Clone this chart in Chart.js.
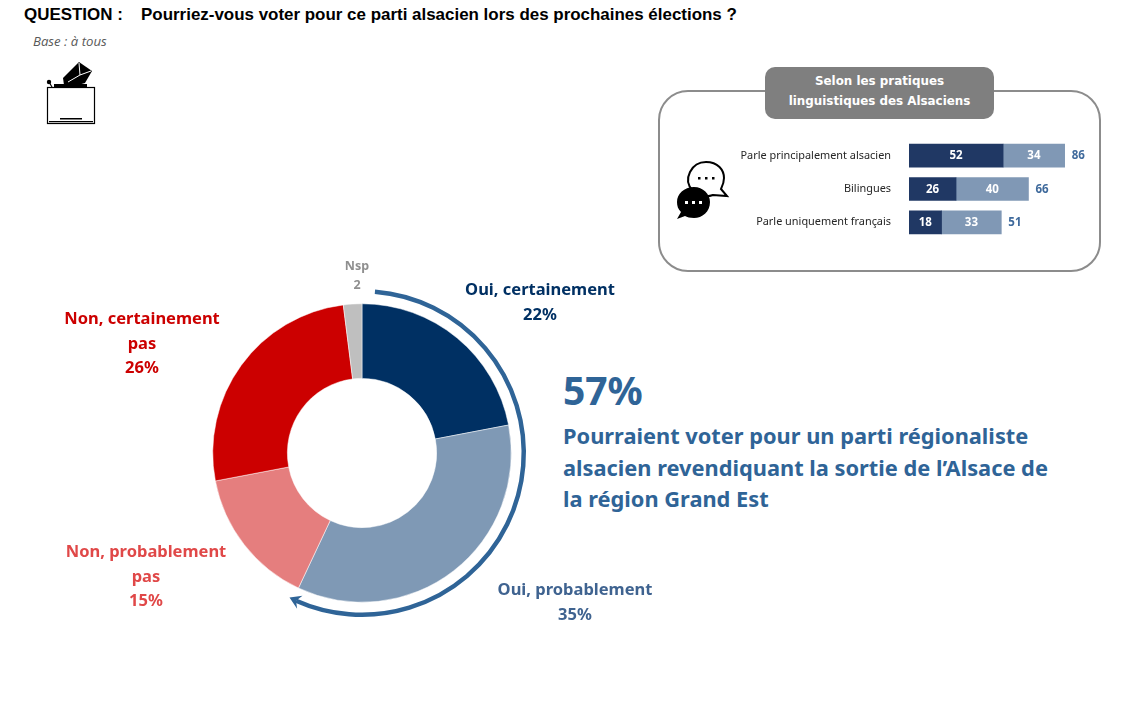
<!DOCTYPE html>
<html lang="fr">
<head>
<meta charset="utf-8">
<title>Vote parti alsacien</title>
<script src="https://cdn.jsdelivr.net/npm/chart.js@4"></script>
<style>
    html, body { margin: 0; padding: 0; background: #fff; }
    body { width: 1135px; height: 711px; position: relative; overflow: hidden; font-family: "Noto Sans", sans-serif; }
    .abs { position: absolute; white-space: nowrap; }
    .lbl { position: absolute; width: 240px; text-align: center; font-weight: 700; font-size: 16.5px; line-height: 24.5px; white-space: nowrap; }
    canvas { position: absolute; }
    svg { position: absolute; }
</style>
</head>
<body>

<div class="abs" style="left:24px;top:3px;font:700 16.95px/24px 'Liberation Sans',sans-serif;color:#000">QUESTION :</div>
<div class="abs" style="left:141px;top:3px;font:700 16.95px/24px 'Liberation Sans',sans-serif;color:#000">Pourriez-vous voter pour ce parti alsacien lors des prochaines élections ?</div>
<div class="abs" style="left:33px;top:32px;font:italic 13.2px/18px 'Open Sans',sans-serif;color:#595959">Base : à tous</div>

<!-- ballot box icon -->
<svg style="left:44px;top:58px" width="54" height="70" viewBox="0 0 54 70">
    <path d="M19 20 L35 4 L48 13 L41 25 L34 27 L20 27Z" fill="#000"/>
    <path d="M35 5 L36 17 L47 13 M24 24 L36 17" stroke="#fff" stroke-width="1" fill="none"/>
    <rect x="10" y="26" width="33" height="3.5" fill="#000"/>
    <circle cx="5" cy="24" r="2.2" fill="#000"/>
    <path d="M5 24 L8 29" stroke="#000" stroke-width="1.2"/>
    <rect x="3.5" y="29.5" width="47" height="36" fill="#fff" stroke="#000" stroke-width="1.2"/>
    <rect x="16" y="60" width="22" height="1.5" fill="#000"/>
    <rect x="5" y="63" width="44" height="1.2" fill="#000"/>
</svg>

<!-- panel -->
<div class="abs" style="left:658px;top:90px;width:443px;height:182px;border:2px solid #8c8c8c;border-radius:30px;box-sizing:border-box"></div>
<div class="abs" style="left:765px;top:67px;width:229px;height:52px;background:#7f7f7f;border-radius:10px;color:#fff;font:700 11.9px/20px 'DejaVu Sans',sans-serif;text-align:center;padding-top:4px;box-sizing:border-box">Selon les pratiques<br>linguistiques des Alsaciens</div>

<!-- chat icon -->
<svg style="left:675px;top:158px" width="56" height="64" viewBox="0 0 56 64">
    <path d="M31 4 C43 4 49 12 49 20 C49 25 47 29 46 31 L52 38 L38 37 C33 39 24 39 18 33 C12 27 12 20 15 14 C18 8 24 4 31 4Z" fill="#fff" stroke="#000" stroke-width="2"/>
    <rect x="23" y="19" width="2.5" height="2.5"/><rect x="30" y="19" width="2.5" height="2.5"/><rect x="37" y="19" width="2.5" height="2.5"/>
    <path d="M19 29 C28 29 35 36 35 44 C35 54 27 60 19 60 C15 60 12 59 10 58 L2 61 L6 54 C3 51 2 48 2 44 C2 36 9 29 19 29Z" fill="#000"/>
    <rect x="10" y="43" width="3" height="3" fill="#fff"/><rect x="17" y="43" width="3" height="3" fill="#fff"/><rect x="24" y="43" width="3" height="3" fill="#fff"/>
</svg>

<canvas id="donut" style="left:192px;top:283px"></canvas>
<canvas id="bars" style="left:700px;top:139px"></canvas>

<div class="abs" style="left:563px;top:362px;font:700 39px/56px 'Noto Sans',sans-serif;color:#2f6497">57%</div>
<div class="abs" style="left:563px;top:420px;font:700 21.8px/31.5px 'Noto Sans',sans-serif;color:#2f6497">Pourraient voter pour un parti régionaliste<br>alsacien revendiquant la sortie de l’Alsace de<br>la région Grand Est</div>

<script>
// Donut values
const answerLabels = ['Oui, certainement', 'Oui, probablement', 'Non, probablement pas', 'Non, certainement pas', 'Nsp'];
const answerValues = [22, 35, 15, 26, 2];
const answerColors = ['#003063', '#7f99b5', '#e57e7e', '#cc0000', '#bfbfbf'];

// Bars by language practice
const practiceLabels = ['Parle principalement alsacien', 'Bilingues', 'Parle uniquement français'];
const certainValues = [52, 26, 18];
const probableValues = [34, 40, 33];
const totalValues = [86, 66, 51];

// Donut labels, drawn as text around the ring
const answerNotes = [
    { lines: ['Oui, certainement', '22%'], cx: 540, top: 277, color: '#003063' },
    { lines: ['Oui, probablement', '35%'], cx: 575, top: 577, color: '#3f6390' },
    { lines: ['Non, probablement', 'pas', '15%'], cx: 146, top: 539, color: '#e04848' },
    { lines: ['Non, certainement', 'pas', '26%'], cx: 142, top: 306, color: '#cc0000' }
];
answerNotes.forEach(n => {
    const div = document.createElement('div');
    div.className = 'lbl';
    div.style.left = (n.cx - 120) + 'px';
    div.style.top = n.top + 'px';
    div.style.color = n.color;
    div.innerHTML = n.lines.join('<br>');
    document.body.appendChild(div);
});
const nsp = document.createElement('div');
nsp.className = 'lbl';
nsp.style.cssText = 'left:237px;top:256px;color:#8f8f8f;font-size:12.5px;line-height:19px';
nsp.innerHTML = 'Nsp<br>2';
document.body.appendChild(nsp);

// Arrow around the "oui" part of the ring
const ouiArrow = {
    id: 'ouiArrow',
    afterDraw(chart) {
        const arc = chart.getDatasetMeta(0).data[0];
        const ctx = chart.ctx;
        const r = arc.outerRadius + 12.5;
        const oui = (answerValues[0] + answerValues[1]) / 100 * Math.PI * 2;
        const start = -Math.PI / 2 + 0.08;
        const end = -Math.PI / 2 + oui - 0.02;
        ctx.save();
        ctx.strokeStyle = '#2f6497';
        ctx.fillStyle = '#2f6497';
        ctx.lineWidth = 4.5;
        ctx.beginPath();
        ctx.arc(arc.x, arc.y, r, start, end);
        ctx.stroke();
        // arrow head, with a notch at the back
        const point = (a, rad) => [arc.x + Math.cos(a) * rad, arc.y + Math.sin(a) * rad];
        const backA = end - 0.025;
        ctx.beginPath();
        ctx.moveTo(...point(end + 0.045, r));
        ctx.lineTo(...point(backA, r + 7));
        ctx.lineTo(...point(end, r));
        ctx.lineTo(...point(backA, r - 7));
        ctx.closePath();
        ctx.fill();
        ctx.restore();
    }
};

const donutCanvas = document.getElementById('donut');
donutCanvas.width = 340;
donutCanvas.height = 340;
new Chart(donutCanvas, {
    type: 'doughnut',
    data: {
        labels: answerLabels,
        datasets: [{
            data: answerValues,
            backgroundColor: answerColors,
            borderColor: '#fff',
            borderWidth: 0.5
        }]
    },
    options: {
        responsive: false,
        animation: false,
        cutout: '50%',
        layout: { padding: 20.5 },
        plugins: { legend: { display: false }, tooltip: { enabled: false } }
    },
    plugins: [ouiArrow]
});

// Numbers in the bars and the totals to the right
const barNumbers = {
    id: 'barNumbers',
    afterDatasetsDraw(chart) {
        const ctx = chart.ctx;
        ctx.save();
        ctx.font = '700 11.5px "Noto Sans", sans-serif';
        ctx.textBaseline = 'middle';
        ctx.textAlign = 'center';
        ctx.fillStyle = '#fff';
        chart.data.datasets.forEach((ds, i) => {
            chart.getDatasetMeta(i).data.forEach((bar, j) => {
                const props = bar.getProps(['x', 'base', 'y']);
                ctx.fillText(ds.data[j], (props.x + props.base) / 2, props.y + 0.5);
            });
        });
        ctx.fillStyle = '#3f6a9c';
        ctx.textAlign = 'left';
        totalValues.forEach((t, j) => {
            const y = chart.scales.y.getPixelForValue(j);
            ctx.fillText(t, chart.scales.x.getPixelForValue(t) + 7, y + 0.5);
        });
        ctx.restore();
    }
};

const barsCanvas = document.getElementById('bars');
barsCanvas.width = 390;
barsCanvas.height = 100;
new Chart(barsCanvas, {
    type: 'bar',
    data: {
        labels: practiceLabels,
        datasets: [
            { data: certainValues, backgroundColor: '#203864', barThickness: 23 },
            { data: probableValues, backgroundColor: '#8098b5', barThickness: 23 }
        ]
    },
    options: {
        indexAxis: 'y',
        responsive: false,
        animation: false,
        layout: { padding: 0 },
        plugins: { legend: { display: false }, tooltip: { enabled: false } },
        scales: {
            x: { stacked: true, display: false, min: 0, max: 100 },
            y: {
                stacked: true,
                border: { display: false },
                grid: { display: false, drawTicks: false },
                ticks: { color: '#262626', padding: 18, font: { family: '"Noto Sans", sans-serif', size: 10.9 } },
                afterFit(scale) {
                    scale.width = 209;
                    // tick padding would otherwise shrink the rows
                    scale.paddingTop = 0;
                    scale.paddingBottom = 0;
                }
            }
        }
    },
    plugins: [barNumbers]
});
</script>
</body>
</html>
